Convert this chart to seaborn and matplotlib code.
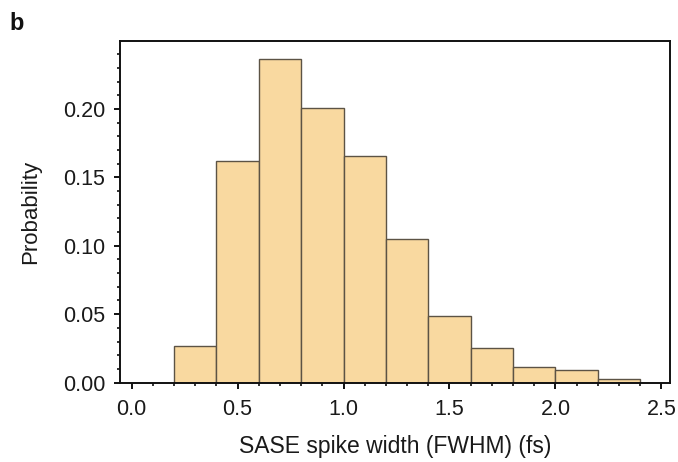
import matplotlib
matplotlib.use("Agg")
import matplotlib.pyplot as plt
import seaborn as sns
import numpy as np
from matplotlib.ticker import MultipleLocator

bin_edges = [0.2, 0.4, 0.6, 0.8, 1.0, 1.2, 1.4, 1.6, 1.8, 2.0, 2.2, 2.4]
probabilities = [0.0266, 0.162, 0.2365, 0.201, 0.166, 0.105, 0.049, 0.025, 0.011, 0.009, 0.0025]
x_ticks = [0.0, 0.5, 1.0, 1.5, 2.0, 2.5]
y_ticks = [0.00, 0.05, 0.10, 0.15, 0.20]

sns.set_style("ticks")
plt.rcParams['font.family'] = ['Liberation Sans', 'DejaVu Sans']

centers = [(bin_edges[i] + bin_edges[i + 1]) / 2 for i in range(len(probabilities))]

fig = plt.figure(figsize=(6.78, 4.62), dpi=100)
ax = fig.add_axes([0.177, 0.172, 0.811, 0.739])

sns.histplot(x=centers, weights=probabilities, bins=bin_edges, ax=ax,
             color="#F9D9A0", alpha=1.0, edgecolor="#5c5345", linewidth=1.0)

ax.set_xlim(-0.055, 2.54)
ax.set_ylim(0, 0.2497)
ax.set_xticks(x_ticks)
ax.set_xticklabels([f"{v:.1f}" for v in x_ticks])
ax.set_yticks(y_ticks)
ax.set_yticklabels([f"{v:.2f}" for v in y_ticks])
ax.xaxis.set_minor_locator(MultipleLocator(0.1))
ax.yaxis.set_minor_locator(MultipleLocator(0.01))
ax.tick_params(which="major", direction="out", length=4.5, width=1.4, labelsize=15.5, pad=6, color="#111111", labelcolor="#1a1a1a")
ax.tick_params(axis="x", which="major", pad=7)
ax.tick_params(which="minor", direction="out", length=2.5, width=1.2, color="#111111")
for s in ax.spines.values():
    s.set_visible(True)
    s.set_linewidth(1.4)
    s.set_color("#111111")

ax.set_xlabel("SASE spike width (FWHM) (fs)", fontsize=16.5, labelpad=11, color="#1a1a1a")
ax.set_ylabel("Probability", fontsize=16, labelpad=16, color="#1a1a1a")

fig.text(0.014, 0.935, "b", fontsize=17, fontweight="bold", color="#111111")

fig.savefig("out.png", dpi=100)
